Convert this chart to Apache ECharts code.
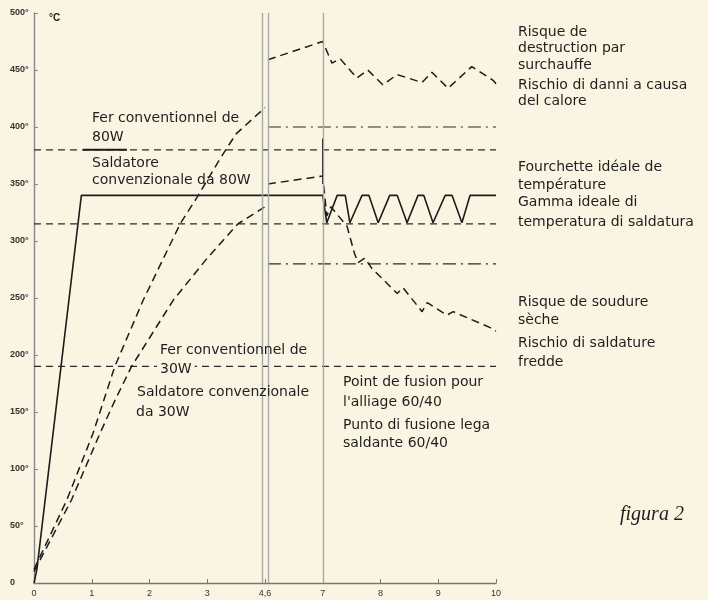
<!DOCTYPE html>
<html><head><meta charset="utf-8">
<script src="https://cdn.jsdelivr.net/npm/echarts@6/dist/echarts.min.js"></script>
<style>html,body{margin:0;padding:0;background:#faf5e2}#c{width:708px;height:600px}</style>
</head><body><div id="c"></div>
<script>
// x positions are tick indices: 0..8 -> labels below (axis is broken at 4,6)
const xTickLabels = ["0","1","2","3","4,6","7","8","9","10"];

// solid: new iron, fast heat-up then regulated in ideal range
const newIron = [[0,0],[0.05,12],[0.82,340],[5,340],[5.07,316],[5.25,340],[5.39,340],[5.47,316],[5.68,340],[5.8,340],[5.96,316],[6.16,340],[6.29,340],[6.46,316],[6.65,340],[6.75,340],[6.91,316],[7.12,340],[7.24,340],[7.41,316],[7.55,340],[8,340]];
// dashed: conventional 80W iron
const conv80Heat = [[0,12],[0.57,73],[1.02,131],[1.4,190],[1.89,248],[2.53,315],[2.82,338],[3.22,372],[3.5,394],[4,417]];
const conv80Over = [[4.05,459],[5,475],[5.16,456],[5.3,460],[5.59,443],[5.78,450],[6.04,437],[6.29,446],[6.72,439],[6.89,448],[7.17,434],[7.58,453],[7.95,441],[8,438]];
// dashed: conventional 30W iron
const conv30Heat = [[0,10],[0.65,73],[1.14,131],[1.4,160],[1.69,190],[2.41,248],[3.0,285],[3.53,315],[4,330]];
const conv30Cool = [[4.05,350],[5,357],[5.07,322],[5.14,330],[5.42,313],[5.55,289],[5.61,281],[5.73,285],[5.85,276],[6.29,254],[6.39,259],[6.72,238],[6.81,246],[7.15,235],[7.26,238],[7.9,224],[8,221]];
// short solid marks
const mark80 = [[0.85,380],[1.61,380]];
const mark7 = [[5,390],[5,350]];
// horizontal reference levels
const dashedLevels = [380, 315, 190];
const dashDotLevels = [400, 280];
const levelSpanFull = [0, 8];
const levelSpanRight = [4.05, 8];
// vertical break / event lines
const verticalLines = [3.96, 4.05, 5];

const ink = '#1c1c1c';
const dashCurve = {color: ink, width: 1.5, type: [8, 5]};
const dashRef = {color: '#2a2a2a', width: 1.2, type: [7, 5]};
const dashDot = {color: '#2a2a2a', width: 1.2, type: [13, 5, 2, 5]};

function line(data, style, z) {
  return {type: 'line', data: data, showSymbol: false, symbol: 'none', silent: true,
    lineStyle: style, itemStyle: {color: style.color}, z: z || 3, animation: false};
}

const series = [];
series.push(Object.assign(line([[0,0]], {color: 'rgba(0,0,0,0)', width: 0}), {
  markLine: {silent: true, symbol: 'none', label: {show: false},
    lineStyle: {color: '#a9a9a9', width: 1.4, type: 'solid'},
    data: verticalLines.map(v => ({xAxis: v}))}
}));
dashedLevels.forEach(v => series.push(line(levelSpanFull.map(x => [x, v]), dashRef, 2)));
dashDotLevels.forEach(v => series.push(line(levelSpanRight.map(x => [x, v]), dashDot, 2)));
series.push(line(newIron, {color: ink, width: 1.6, type: 'solid'}, 4));
series.push(line(conv80Heat, dashCurve));
series.push(line(conv80Over, dashCurve));
series.push(line(conv30Heat, dashCurve));
series.push(line(conv30Cool, dashCurve));
series.push(line(mark80, {color: ink, width: 2, type: 'solid'}));
series.push(line(mark7, {color: ink, width: 1.5, type: 'solid'}));

const F = '"DejaVu Sans", sans-serif';
function t(x, y, s, extra) {
  return {type: 'text', x: x, y: y, z: 10, silent: true,
    style: Object.assign({text: s, fontSize: 14, fontFamily: F, fill: '#1e1e1e', verticalAlign: 'middle', align: 'left'}, extra || {})};
}
const bgStyle = {backgroundColor: '#faf5e2', padding: [0, 3]};
const graphics = [
  t(92,118,'Fer conventionnel de'), t(92,137,'80W'), t(92,163,'Saldatore'), t(92,180,'convenzionale da 80W'),
  t(160,350,'Fer conventionnel de'), t(157,369,'30W', bgStyle), t(137,392,'Saldatore convenzionale'), t(136,412,'da 30W'),
  t(343,382,'Point de fusion pour'), t(343,402,"l'alliage 60/40"), t(343,425,'Punto di fusione lega'), t(343,443,'saldante 60/40'),
  t(518,32,'Risque de'), t(518,48,'destruction par'), t(518,65,'surchauffe'), t(518,85,'Rischio di danni a causa'), t(518,101,'del calore'),
  t(518,167,'Fourchette idéale de'), t(518,185,'température'), t(518,202,'Gamma ideale di'), t(518,222,'temperatura di saldatura'),
  t(518,302,'Risque de soudure'), t(518,320,'sèche'), t(518,343,'Rischio di saldature'), t(518,362,'fredde'),
  t(620,515,'figura 2', {fontSize: 20, fontFamily: '"Liberation Serif", serif', fontStyle: 'italic'}),
  t(49,18,'°C', {fontSize: 10, fontWeight: 'bold', fontFamily: '"Liberation Sans", sans-serif'})
];

const chart = echarts.init(document.getElementById('c'), null, {renderer: 'canvas'});
chart.setOption({
  backgroundColor: '#faf5e2',
  animation: false,
  grid: {left: 34, right: 212, top: 13, bottom: 17, containLabel: false},
  xAxis: {type: 'value', min: 0, max: 8, interval: 1,
    axisLine: {show: true, lineStyle: {color: '#777', width: 1.4}},
    axisTick: {show: true, inside: true, length: 4, lineStyle: {color: '#777'}},
    splitLine: {show: false},
    axisLabel: {color: '#333', fontSize: 9, fontFamily: '"Liberation Sans", sans-serif', margin: 6,
      formatter: v => xTickLabels[Math.round(v)] || ''}},
  yAxis: {type: 'value', min: 0, max: 500, interval: 50,
    axisLine: {show: true, lineStyle: {color: '#888', width: 1.4}},
    axisTick: {show: true, inside: true, length: 4, lineStyle: {color: '#888'}},
    splitLine: {show: false},
    axisLabel: {color: '#333', fontSize: 9, fontWeight: 'bold', fontFamily: '"Liberation Sans", sans-serif',
      align: 'left', margin: 24, formatter: v => v === 0 ? '0' : v + '°'}},
  series: series,
  graphic: graphics
});
</script></body></html>
